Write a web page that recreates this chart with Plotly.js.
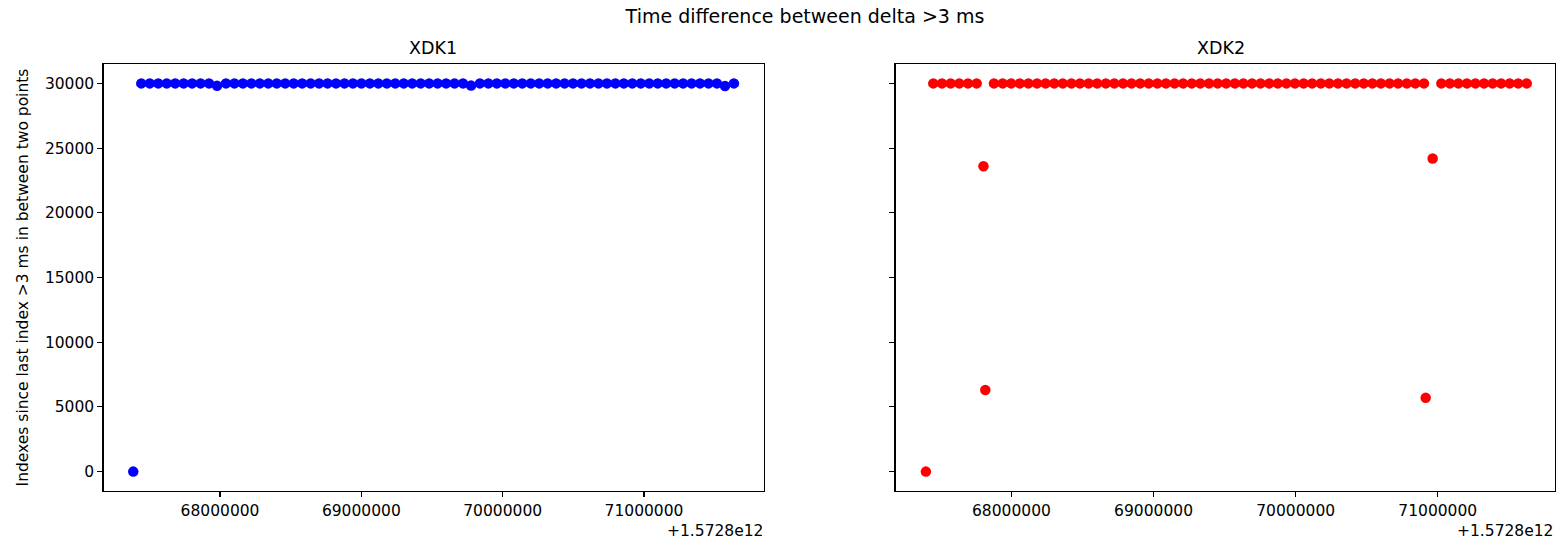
<!DOCTYPE html>
<html>
<head>
<meta charset="utf-8">
<script src="https://cdn.plot.ly/plotly-3.0.1.min.js"></script>
<style>html,body{margin:0;padding:0;background:#fff;}#chart{width:1559px;height:541px;}</style>
</head>
<body>
<div id="chart"></div>
<script>
// Offset of the time axis (ms), shown as "+1.5728e12"
const OFFSET = 1.5728e12;
const OFFSET_LABEL = "+1.5728e12";

// XDK1: time (ms, relative to OFFSET) and indexes since last index >3 ms
const xdk1Time = [67386000,
  67443000, 67502900, 67562800, 67622700, 67682600, 67742500, 67802400, 67862300, 67922200, 67979000,
  68042000, 68101900, 68161800, 68221700, 68281600, 68341500, 68401400, 68461300, 68521200, 68581100,
  68641000, 68700900, 68760800, 68820700, 68880600, 68940500, 69000400, 69060300, 69120200, 69180100,
  69240000, 69299900, 69359800, 69419700, 69479600, 69539500, 69599400, 69659300, 69719200, 69776000,
  69839000, 69898900, 69958800, 70018700, 70078600, 70138500, 70198400, 70258300, 70318200, 70378100,
  70438000, 70497900, 70557800, 70617700, 70677600, 70737500, 70797400, 70857300, 70917200, 70977100,
  71037000, 71096900, 71156800, 71216700, 71276600, 71336500, 71396400, 71456300, 71516200, 71573000,
  71636000];
const xdk1Index = [0,
  30000, 30000, 30000, 30000, 30000, 30000, 30000, 30000, 30000, 29820,
  30000, 30000, 30000, 30000, 30000, 30000, 30000, 30000, 30000, 30000,
  30000, 30000, 30000, 30000, 30000, 30000, 30000, 30000, 30000, 30000,
  30000, 30000, 30000, 30000, 30000, 30000, 30000, 30000, 30000, 29830,
  30000, 30000, 30000, 30000, 30000, 30000, 30000, 30000, 30000, 30000,
  30000, 30000, 30000, 30000, 30000, 30000, 30000, 30000, 30000, 30000,
  30000, 30000, 30000, 30000, 30000, 30000, 30000, 30000, 30000, 29800,
  30000];

// XDK2
const xdk2Time = [67398000,
  67450000, 67511000, 67572000, 67633000, 67694000, 67755000,
  67803000, 67816000,
  67877000, 67938000, 67998000, 68059000, 68119000, 68180000, 68240000, 68301000, 68361000, 68422000,
  68482000, 68543000, 68603000, 68664000, 68724000, 68785000, 68845000, 68906000, 68966000, 69027000,
  69087000, 69148000, 69208000, 69269000, 69329000, 69390000, 69451000, 69511000, 69572000, 69632000,
  69693000, 69753000, 69814000, 69874000, 69935000, 69995000, 70056000, 70116000, 70177000, 70237000,
  70298000, 70358000, 70419000, 70479000, 70540000, 70600000, 70661000, 70721000, 70782000, 70842000,
  70903000,
  70915000, 70964000,
  71025000, 71085000, 71145000, 71205000, 71265000, 71326000, 71386000, 71446000, 71506000, 71566000,
  71626000];
const xdk2Index = [0,
  30000, 30000, 30000, 30000, 30000, 30000,
  23600, 6300,
  30000, 30000, 30000, 30000, 30000, 30000, 30000, 30000, 30000, 30000,
  30000, 30000, 30000, 30000, 30000, 30000, 30000, 30000, 30000, 30000,
  30000, 30000, 30000, 30000, 30000, 30000, 30000, 30000, 30000, 30000,
  30000, 30000, 30000, 30000, 30000, 30000, 30000, 30000, 30000, 30000,
  30000, 30000, 30000, 30000, 30000, 30000, 30000, 30000, 30000, 30000,
  30000,
  5700, 24200,
  30000, 30000, 30000, 30000, 30000, 30000, 30000, 30000, 30000, 30000,
  30000];

// Tick labels
const xTickOffsets = [68000000, 69000000, 70000000, 71000000];
const xTickLabels = ["68000000", "69000000", "70000000", "71000000"];
const yTicks = [0, 5000, 10000, 15000, 20000, 25000, 30000];
const yTickLabels = ["0", "5000", "10000", "15000", "20000", "25000", "30000"];

const panelTitles = ["XDK1", "XDK2"];
const mainTitle = "Time difference between delta >3 ms";
const yTitle = "Indexes since last index >3 ms in between two points";

const FONT = "DejaVu Sans";
const W = 1559, H = 541;
const px = v => v / W;
const py = v => (H - v) / H;

const traces = [
  {x: xdk1Time.map(t => OFFSET + t), y: xdk1Index, type: "scatter", mode: "markers",
   marker: {color: "#0000ff", size: 10.5}, xaxis: "x", yaxis: "y", name: "XDK1"},
  {x: xdk2Time.map(t => OFFSET + t), y: xdk2Index, type: "scatter", mode: "markers",
   marker: {color: "#ff0000", size: 10.5}, xaxis: "x2", yaxis: "y2", name: "XDK2"}
];

const axisCommon = {
  showline: true, mirror: true, linecolor: "#000", linewidth: 1.2,
  ticks: "outside", ticklen: 5, tickwidth: 1.2, tickcolor: "#000",
  showgrid: false, zeroline: false,
  tickfont: {family: FONT, size: 15.5, color: "#000"}
};

const xTickVals = xTickOffsets.map(t => OFFSET + t);

const layout = {
  width: W, height: H,
  margin: {l: 0, r: 0, t: 0, b: 0},
  paper_bgcolor: "#fff", plot_bgcolor: "#fff",
  showlegend: false,
  title: {text: mainTitle, x: px(805), xanchor: "center", y: py(16), yanchor: "middle",
          font: {family: FONT, size: 19, color: "#000"}},
  xaxis: Object.assign({}, axisCommon, {
    domain: [px(103.5), px(764)], type: "linear",
    range: [OFFSET + 67175500, OFFSET + 71849000],
    tickmode: "array", tickvals: xTickVals, ticktext: xTickLabels, anchor: "y"
  }),
  yaxis: Object.assign({}, axisCommon, {
    domain: [py(491), py(64)], range: [-1500, 31500],
    tickmode: "array", tickvals: yTicks, ticktext: yTickLabels, anchor: "x",
    title: {text: yTitle, font: {family: FONT, size: 15.5, color: "#000"}, standoff: 12}
  }),
  xaxis2: Object.assign({}, axisCommon, {
    domain: [px(895.5), px(1555)], type: "linear",
    range: [OFFSET + 67184000, OFFSET + 71825000],
    tickmode: "array", tickvals: xTickVals, ticktext: xTickLabels, anchor: "y2"
  }),
  yaxis2: Object.assign({}, axisCommon, {
    domain: [py(491), py(64)], range: [-1500, 31500], matches: "y",
    tickmode: "array", tickvals: yTicks, ticktext: yTickLabels, anchor: "x2",
    showticklabels: false
  }),
  annotations: [
    {text: panelTitles[0], xref: "paper", yref: "paper", x: px(433), y: py(48),
     xanchor: "center", yanchor: "middle", showarrow: false, font: {family: FONT, size: 17.5, color: "#000"}},
    {text: panelTitles[1], xref: "paper", yref: "paper", x: px(1221), y: py(48),
     xanchor: "center", yanchor: "middle", showarrow: false, font: {family: FONT, size: 17.5, color: "#000"}},
    {text: OFFSET_LABEL, xref: "paper", yref: "paper", x: px(765), y: py(531),
     xanchor: "right", yanchor: "middle", showarrow: false, font: {family: FONT, size: 15.5, color: "#000"}},
    {text: OFFSET_LABEL, xref: "paper", yref: "paper", x: px(1555), y: py(531),
     xanchor: "right", yanchor: "middle", showarrow: false, font: {family: FONT, size: 15.5, color: "#000"}}
  ]
};

Plotly.newPlot("chart", traces, layout, {displayModeBar: false, staticPlot: true});
</script>
</body>
</html>
